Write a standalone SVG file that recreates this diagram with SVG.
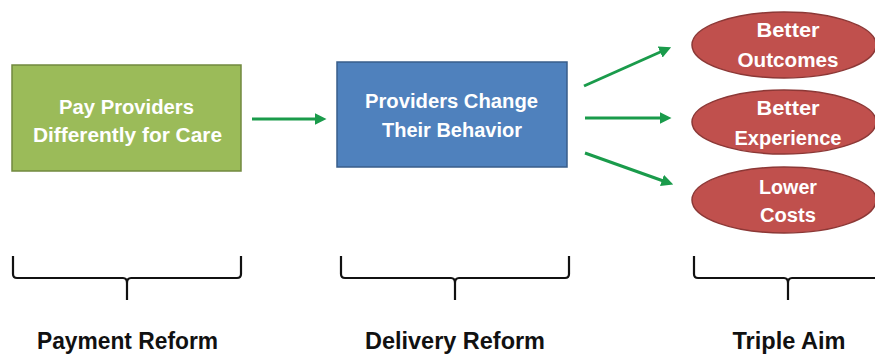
<svg xmlns="http://www.w3.org/2000/svg" width="875" height="358" viewBox="0 0 875 358">
<defs>
<marker id="ah" markerWidth="4" markerHeight="4" refX="2.5" refY="2" orient="auto" markerUnits="strokeWidth">
<path d="M0,0 L4,2 L0,4 Z" fill="#1A9B4B"/>
</marker>
<style>
.t{font-family:"Liberation Sans",Arial,sans-serif;font-weight:bold;fill:#fff;text-anchor:middle;font-size:20px}
.l{font-family:"Liberation Sans",Arial,sans-serif;font-weight:bold;fill:#111;text-anchor:middle;font-size:23px}
.c{stroke:#1A9B4B;stroke-width:3;fill:none;marker-end:url(#ah)}
.b{stroke:#111;stroke-width:2.2;fill:none;stroke-linejoin:round}
</style>
</defs>
<rect width="875" height="358" fill="#fff"/>
<g id="pay">
<rect x="12" y="65" width="229" height="106" fill="#9BBB59" stroke="#71893F" stroke-width="1.5"/>
<text class="t" x="126.5" y="114" textLength="135" lengthAdjust="spacingAndGlyphs">Pay Providers</text>
<text class="t" x="127.5" y="142" textLength="189" lengthAdjust="spacingAndGlyphs">Differently for Care</text>
</g>
<g id="delivery">
<rect x="337" y="62" width="230" height="105" fill="#4F81BD" stroke="#385D8A" stroke-width="1.5"/>
<text class="t" x="451.5" y="108" textLength="173" lengthAdjust="spacingAndGlyphs">Providers Change</text>
<text class="t" x="452" y="137" textLength="140" lengthAdjust="spacingAndGlyphs">Their Behavior</text>
</g>
<g id="outcomes">
<ellipse cx="784" cy="45" rx="92" ry="33" fill="#C0504D" stroke="#8C3836" stroke-width="1.5"/>
<text class="t" x="788" y="37" textLength="63" lengthAdjust="spacingAndGlyphs">Better</text>
<text class="t" x="788" y="67" textLength="101" lengthAdjust="spacingAndGlyphs">Outcomes</text>
</g>
<g id="experience">
<ellipse cx="784" cy="122" rx="92" ry="32" fill="#C0504D" stroke="#8C3836" stroke-width="1.5"/>
<text class="t" x="788" y="115" textLength="63" lengthAdjust="spacingAndGlyphs">Better</text>
<text class="t" x="788" y="145" textLength="107" lengthAdjust="spacingAndGlyphs">Experience</text>
</g>
<g id="costs">
<ellipse cx="784" cy="200" rx="92" ry="33" fill="#C0504D" stroke="#8C3836" stroke-width="1.5"/>
<text class="t" x="788" y="194" textLength="58" lengthAdjust="spacingAndGlyphs">Lower</text>
<text class="t" x="788" y="222" textLength="56" lengthAdjust="spacingAndGlyphs">Costs</text>
</g>
<g id="connectors">
<line class="c" x1="252" y1="119" x2="322" y2="119"/>
<line class="c" x1="584" y1="86" x2="667" y2="49"/>
<line class="c" x1="585" y1="118" x2="667" y2="118"/>
<line class="c" x1="585" y1="153" x2="669" y2="183"/>
</g>
<g id="braces">
<path class="b" d="M13,256 V274 Q13,278 17,278 H123 Q127,278 127,283 V300 M127,283 Q127,278 131,278 H237 Q241,278 241,274 V256"/>
<path class="b" d="M341,256 V274 Q341,278 345,278 H451 Q455,278 455,283 V300 M455,283 Q455,278 459,278 H565 Q569,278 569,274 V256"/>
<path class="b" d="M694,256 V274 Q694,278 698,278 H784 Q788,278 788,283 V300 M788,283 Q788,278 792,278 H878"/>
</g>
<g id="labels">
<text class="l" x="127.5" y="349" textLength="181" lengthAdjust="spacingAndGlyphs">Payment Reform</text>
<text class="l" x="455" y="349" textLength="180" lengthAdjust="spacingAndGlyphs">Delivery Reform</text>
<text class="l" x="789" y="349" textLength="113" lengthAdjust="spacingAndGlyphs">Triple Aim</text>
</g>
</svg>
